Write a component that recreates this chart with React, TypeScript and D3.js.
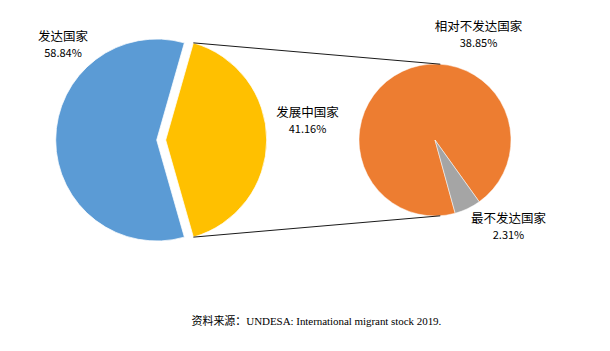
import React, { useEffect, useRef } from "react";
import { select, pie, arc } from "d3";

const mainLabels = ["发达国家", "发展中国家"];
const mainValues = [58.84, 41.16];
const subLabels = ["相对不发达国家", "最不发达国家"];
const subValues = [38.85, 2.31];
const sourceText = "资料来源：UNDESA: International migrant stock 2019.";

const mainColors = ["#5B9BD5", "#FFC000"];
const subColors = ["#ED7D31", "#A5A5A5"];

const width = 610;
const height = 351;
const deg = Math.PI / 180;

const App = () => {
  const svgRef = useRef<SVGSVGElement>(null);

  useEffect(() => {
    const svg = select(svgRef.current);
    svg.selectAll("*").remove();

    const cjk = "'Noto Sans CJK SC', 'Noto Sans', sans-serif";

    // main pie, the smaller share is pulled out to the right
    const cx = 156.7;
    const cy = 140;
    const r = 101;
    const explode = 9;
    const total = mainValues[0] + mainValues[1];
    const yFrac = mainValues[1] / total;
    const start = Math.PI / 2 + Math.PI * yFrac;

    const mainPie = pie<number>()
      .sort(null)
      .startAngle(start)
      .endAngle(start + 2 * Math.PI);
    const mainArcs = mainPie(mainValues);
    const mainArc = arc<any>().innerRadius(0).outerRadius(r);

    const offsets = mainArcs.map((d, i) => {
      if (i !== 1) return [0, 0];
      const mid = (d.startAngle + d.endAngle) / 2;
      return [explode * Math.sin(mid), -explode * Math.cos(mid)];
    });

    svg
      .append("g")
      .selectAll("path")
      .data(mainArcs)
      .join("path")
      .attr("transform", (d, i) => `translate(${cx + offsets[i][0]},${cy + offsets[i][1]})`)
      .attr("d", mainArc)
      .attr("fill", (d, i) => mainColors[i])
      .attr("stroke", "#fff")
      .attr("stroke-width", 0.75);

    // secondary pie (breakdown of 发展中国家)
    const sx = 435;
    const sy = 140;
    const sr = 76;
    const sStart = 164.6 * deg;
    const subPie = pie<number>()
      .sort(null)
      .startAngle(sStart)
      .endAngle(sStart + 2 * Math.PI);
    const subArcs = subPie(subValues);
    const subArc = arc<any>().innerRadius(0).outerRadius(sr);

    svg
      .append("g")
      .attr("transform", `translate(${sx},${sy})`)
      .selectAll("path")
      .data(subArcs)
      .join("path")
      .attr("d", subArc)
      .attr("fill", (d, i) => subColors[i])
      .attr("stroke", "#fff")
      .attr("stroke-width", 0.5);

    // connector lines
    const yArc = mainArcs[1];
    const ycx = cx + offsets[1][0];
    const ycy = cy + offsets[1][1];
    const a0 = yArc.startAngle;
    const a1 = yArc.endAngle;
    const p0 = [ycx + r * Math.sin(a0), ycy - r * Math.cos(a0)];
    const p1 = [ycx + r * Math.sin(a1), ycy - r * Math.cos(a1)];
    const q0 = [sx + sr * Math.sin(4 * deg), sy - sr * Math.cos(4 * deg)];
    const q1 = [sx + sr * Math.sin(176 * deg), sy - sr * Math.cos(176 * deg)];

    svg
      .append("g")
      .selectAll("line")
      .data([
        [p0, q0],
        [p1, q1],
      ])
      .join("line")
      .attr("x1", (d) => d[0][0])
      .attr("y1", (d) => d[0][1])
      .attr("x2", (d) => d[1][0])
      .attr("y2", (d) => d[1][1])
      .attr("stroke", "#1a1a1a")
      .attr("stroke-width", 1);

    // labels
    const labels = [
      { name: mainLabels[0], value: mainValues[0], x: 63, y: 41 },
      { name: mainLabels[1], value: mainValues[1], x: 307.5, y: 117 },
      { name: subLabels[0], value: subValues[0], x: 478.5, y: 31 },
      { name: subLabels[1], value: subValues[1], x: 508.5, y: 223.3 },
    ];

    const lg = svg
      .append("g")
      .attr("font-family", cjk)
      .attr("font-size", 12.5)
      .attr("fill", "#000")
      .attr("text-anchor", "middle");

    labels.forEach((l) => {
      lg.append("text").attr("x", l.x).attr("y", l.y).text(l.name);
      lg.append("text")
        .attr("x", l.x)
        .attr("y", l.y + 16)
        .attr("font-size", 11)
        .text(`${l.value.toFixed(2)}%`);
    });

    svg
      .append("text")
      .attr("x", 191.5)
      .attr("y", 325)
      .attr("font-family", "'Liberation Serif', 'Noto Sans CJK SC', serif")
      .attr("font-size", 11)
      .attr("letter-spacing", -0.05)
      .attr("fill", "#000")
      .text(sourceText);
  }, []);

  return (
    <svg
      ref={svgRef}
      width={width}
      height={height}
      style={{ position: "absolute", left: 0, top: 0, background: "#fff" }}
    />
  );
};

export default App;
